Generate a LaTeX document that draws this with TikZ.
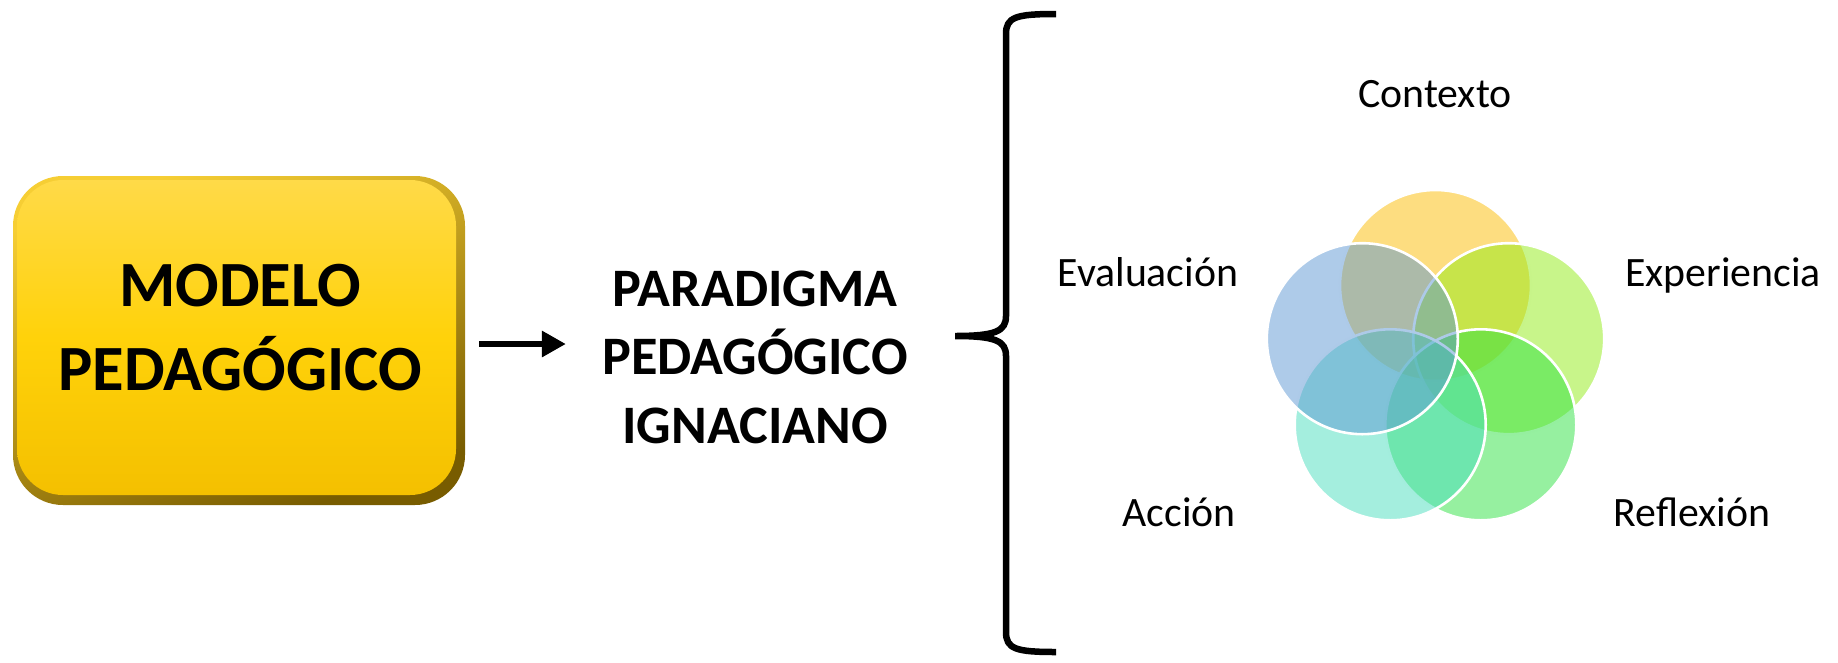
\documentclass[tikz,border=0pt]{standalone}
\usepackage{fontspec}
\setmainfont{Carlito}
\usetikzlibrary{arrows.meta,fit,calc}
\definecolor{cyel}{RGB}{251,187,1}
\definecolor{clgreen}{RGB}{145,235,21}
\definecolor{cgreen}{RGB}{45,225,65}
\definecolor{cteal}{RGB}{73,221,189}
\definecolor{cblue}{RGB}{93,151,211}
\definecolor{rimtop}{RGB}{246,206,52}
\definecolor{rimbot}{RGB}{120,92,0}
\definecolor{facetop}{RGB}{255,218,72}
\definecolor{facemid}{RGB}{255,210,10}
\definecolor{facebot}{RGB}{244,192,0}
\begin{document}
\begin{tikzpicture}[x=1pt,y=-1pt,
  bigbold/.style={font={\fontsize{64.5pt}{75pt}\selectfont\bfseries}, inner sep=0pt, anchor=base},
  parabold/.style={font={\fontsize{54.2pt}{64pt}\selectfont\bfseries}, inner sep=0pt, anchor=base},
  lbl/.style={font={\fontsize{41.8pt}{49pt}\selectfont}, inner sep=0pt, anchor=base},
  petal/.style={fill=#1, fill opacity=0.5, draw=white, draw opacity=1, line width=2.6pt},
  arr/.style={line width=6pt, -{Triangle[length=24pt,width=25pt]}},
  bracestyle/.style={line width=6.5pt, line cap=butt, line join=round}]
\useasboundingbox (0,0) rectangle (1838,662);

% gold box
\node[rounded corners=50pt, minimum width=452pt, minimum height=329pt, inner sep=0pt,
      left color=rimtop, right color=rimbot, shading angle=20] (box) at (239,340.5) {};
\path[rounded corners=46pt, top color=facetop, bottom color=facebot, middle color=facemid]
  (17,180) rectangle (456,495);
\node[bigbold] (m1) at (240,306.7) {MODELO};
\node[bigbold] (m2) at (240,390) {PEDAGÓGICO};

% paradigm text
\node[parabold] (p1) at (755,306) {PARADIGMA};
\node[parabold] (p2) at (755,374) {PEDAGÓGICO};
\node[parabold] (p3) at (755,443) {IGNACIANO};
\node[fit=(p1)(p2)(p3), inner sep=0pt] (para) {};

% arrow
\coordinate (astart) at ([xshift=14pt,yshift=-3.5pt]box.east);
\draw[arr] (astart) -- ([xshift=-36pt]para.west |- astart);

% brace
\draw[bracestyle] (1056,14) .. controls (1016,14) and (1006,17) .. (1006,34)
  -- (1006,316) .. controls (1006,331) and (996,336) .. (955,336)
  (955,336) .. controls (996,336) and (1006,341) .. (1006,356)
  -- (1006,632) .. controls (1006,649) and (1016,652) .. (1056,652);

% petals
\path[petal=cyel]    (1435.5,285.5) circle[radius=95.5];
\path[petal=clgreen] (1508.7,338.7) circle[radius=95.5];
\path[petal=cgreen]  (1480.8,424.8) circle[radius=95.5];
\path[petal=cteal]   (1390.2,424.8) circle[radius=95.5];
\path[petal=cblue]   (1362.3,338.7) circle[radius=95.5];

% labels
\node[lbl] (l1) at (1435,107) {Contexto};
\node[lbl] (l2) at (1723,286) {Experiencia};
\node[lbl] (l3) at (1148,286) {Evaluación};
\node[lbl] (l4) at (1692,526) {Reflexión};
\node[lbl] (l5) at (1179,526) {Acción};
\end{tikzpicture}
\end{document}
